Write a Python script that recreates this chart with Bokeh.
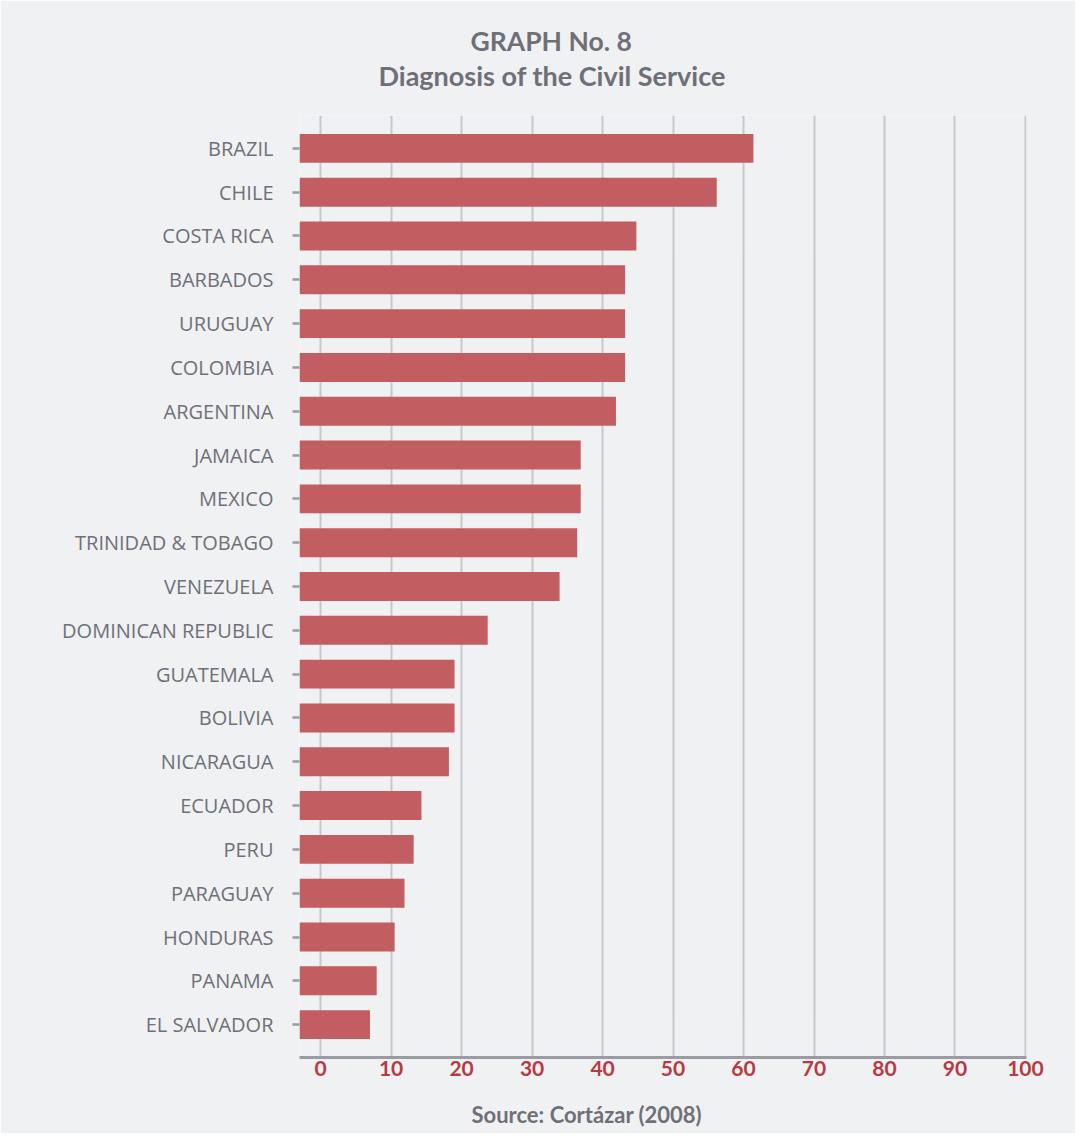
from bokeh.plotting import figure
from bokeh.models import FactorRange, Range1d, Title, FixedTicker, LinearAxis
from bokeh.embed import file_html
from bokeh.resources import INLINE

# ---- data ----
countries = ["BRAZIL", "CHILE", "COSTA RICA", "BARBADOS", "URUGUAY", "COLOMBIA",
             "ARGENTINA", "JAMAICA", "MEXICO", "TRINIDAD & TOBAGO", "VENEZUELA",
             "DOMINICAN REPUBLIC", "GUATEMALA", "BOLIVIA", "NICARAGUA", "ECUADOR",
             "PERU", "PARAGUAY", "HONDURAS", "PANAMA", "EL SALVADOR"]
scores = [61.4, 56.2, 44.8, 43.2, 43.2, 43.2, 41.9, 36.9, 36.9, 36.4, 33.9,
          23.7, 19.0, 19.0, 18.2, 14.3, 13.2, 11.9, 10.5, 7.95, 7.0]
x_ticks = [0, 10, 20, 30, 40, 50, 60, 70, 80, 90, 100]
title_line1 = "GRAPH No. 8"
title_line2 = "Diagnosis of the Civil Service"
source_text = "Source: Cortázar (2008)"

# ---- style ----
BG = "#f0f1f3"
BAR = "#c25e62"
RED_TXT = "#b73a43"
GRAY_TXT = "#6f7077"
GRID = "#c6c8ce"
AXIS = "#9a9ba3"
X_START, X_END = -3.0, 100.15
BOLD_FONT = "Lato"

p = figure(width=1075, height=1133,
           y_range=FactorRange(factors=countries[::-1], range_padding=0.25,
                               range_padding_units="absolute"),
           x_range=Range1d(X_START, X_END),
           output_backend="svg", toolbar_location=None,
           min_border_left=299, min_border_right=49,
           min_border_top=115, min_border_bottom=76)

p.background_fill_color = BG
p.border_fill_color = BG
p.outline_line_color = None

p.hbar(y=countries, right=scores, left=X_START, height=0.66,
       color=BAR, line_color=None)

# grid
p.ygrid.grid_line_color = None
p.xgrid.grid_line_color = GRID
p.xgrid.grid_line_width = 2

# x axis
xax = p.xaxis[0]
xax.ticker = FixedTicker(ticks=x_ticks)
xax.axis_line_color = AXIS
xax.axis_line_width = 3
xax.major_tick_line_color = None
xax.minor_tick_line_color = None
xax.major_tick_out = 0
xax.minor_tick_out = 0
xax.major_label_standoff = 3
xax.major_label_text_color = RED_TXT
xax.major_label_text_font = BOLD_FONT
xax.major_label_text_font_style = "bold"
xax.major_label_text_font_size = "21px"

# y axis
yax = p.yaxis[0]
yax.axis_line_color = None
yax.major_tick_line_color = AXIS
yax.major_tick_line_width = 2.5
yax.major_tick_in = 0
yax.major_tick_out = 7
yax.major_label_standoff = 19
yax.major_label_text_color = GRAY_TXT
yax.major_label_text_font = "Open Sans"
yax.major_label_text_font_size = "20px"


def spacer(size):
    # an invisible axis that only reserves vertical room
    return LinearAxis(ticker=FixedTicker(ticks=[50]), axis_line_color=None,
                      major_tick_line_color=None, minor_tick_line_color=None,
                      major_tick_in=0, minor_tick_in=0,
                      major_tick_out=size, minor_tick_out=0,
                      major_label_standoff=0, major_label_overrides={50: ""},
                      major_label_text_font_size="1px")


# titles: spacer next to the frame, then inner title, then outer title
p.add_layout(spacer(24), "above")
p.add_layout(Title(text=title_line2, align="left", offset=79,
                   text_font=BOLD_FONT, text_font_style="bold",
                   text_font_size="27px", text_color=GRAY_TXT,
                   standoff=0), "above")
p.add_layout(Title(text=title_line1, align="left", offset=171,
                   text_font=BOLD_FONT, text_font_style="bold",
                   text_font_size="26.5px", text_color=GRAY_TXT,
                   standoff=0), "above")

# source note below the axis
p.add_layout(spacer(20), "below")
p.add_layout(Title(text=source_text, align="left", offset=172,
                   text_font=BOLD_FONT, text_font_style="bold",
                   text_font_size="22px", text_color=GRAY_TXT,
                   standoff=0), "below")

open("out.html", "w").write(file_html(p, INLINE))
